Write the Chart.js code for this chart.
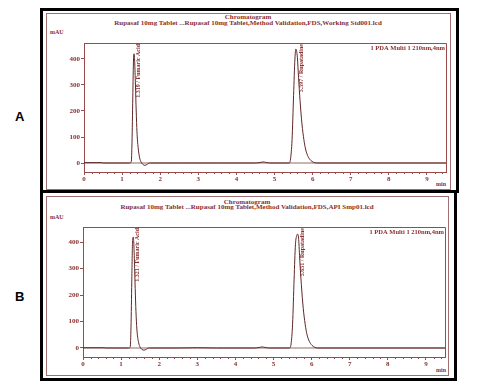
<!DOCTYPE html>
<html>
<head>
<meta charset="utf-8">
<script src="https://cdn.jsdelivr.net/npm/chart.js@4/dist/chart.umd.min.js"></script>
<style>
  html,body{margin:0;padding:0;background:#fff;}
  body{width:481px;height:389px;position:relative;overflow:hidden;}
  .box{position:absolute;box-sizing:border-box;}
  .txt{position:absolute;white-space:nowrap;font-family:'Liberation Serif',serif;color:#8a2f2f;font-weight:bold;}
  .lab{position:absolute;font-family:'Liberation Sans',Arial,sans-serif;font-weight:bold;font-size:13px;color:#000;}
  canvas{position:absolute;}
</style>
</head>
<body>
<script>
// ---------- data ----------
const xTickValues = [0, 1, 2, 3, 4, 5, 6, 7, 8, 9];
const yTickValues = [0, 100, 200, 300, 400];

const timesA  = [0, 0.45, 0.5, 1.2, 1.24, 1.26, 1.28, 1.30, 1.315, 1.33, 1.35, 1.37, 1.39, 1.42, 1.46, 1.5, 1.55, 1.6, 1.65, 1.7, 1.75, 2.5, 3.5, 4.5, 4.62, 4.7, 4.78, 4.9, 5.38, 5.42, 5.46, 5.50, 5.535, 5.56, 5.58, 5.60, 5.63, 5.67, 5.72, 5.77, 5.82, 5.88, 5.95, 6.02, 6.1, 9.5];
const signalA = [1.5, 1.5, 0, 0, 5, 80, 250, 400, 420, 390, 300, 200, 120, 60, 20, 3, -6, -9, -6, -1, 0, 0, 0, 0, 2, 4, 2, 0, 0, 15, 90, 260, 400, 438, 430, 405, 330, 240, 150, 90, 50, 25, 10, 3, 0, 0];

const timesB  = [0, 0.55, 0.6, 1.2, 1.24, 1.26, 1.28, 1.30, 1.32, 1.335, 1.355, 1.375, 1.395, 1.42, 1.46, 1.5, 1.55, 1.6, 1.65, 1.7, 1.75, 2.5, 3.0, 3.5, 4.5, 4.62, 4.7, 4.78, 4.9, 5.42, 5.46, 5.50, 5.54, 5.575, 5.61, 5.635, 5.66, 5.69, 5.73, 5.78, 5.83, 5.88, 5.94, 6.01, 6.08, 6.15, 9.5];
const signalB = [1, 1, 0, 0, 5, 80, 250, 400, 419, 390, 300, 200, 120, 60, 20, 3, -6, -8, -6, -1, 0, 0, 1, 0, 0, 2, 4, 2, 0, 0, 15, 90, 260, 390, 425, 430, 410, 330, 240, 150, 90, 50, 25, 10, 3, 0, 0];

const peakTimesA  = [1.319, 5.597];
const peakLabelsA = ['1.319 / Fumaric Acid', '5.597 / Rupatadine'];
const peakTimesB  = [1.321, 5.651];
const peakLabelsB = ['1.321 / Fumaric Acid', '5.651 / Rupatadine'];

const titleText   = 'Chromatogram';
const subtitleA   = 'Rupasaf 10mg Tablet ...Rupasaf 10mg Tablet,Method Validation,FDS,Working Std001.lcd';
const subtitleB   = 'Rupasaf 10mg Tablet ...Rupasaf 10mg Tablet,Method Validation,FDS,API Smp01.lcd';
const channelText = '1 PDA Multi 1 210nm,4nm';
const yUnit = 'mAU';
const xUnit = 'min';

// ---------- styles ----------
const AX = '#9a4a4a';
const TXT = '#8a2f2f';
const TRACE = '#5e2626';
const FONT = "'Liberation Serif', serif";

function el(tag, cls, css, text){
  const e = document.createElement(tag);
  if (cls) e.className = cls;
  Object.assign(e.style, css);
  if (text !== undefined) e.textContent = text;
  document.body.appendChild(e);
  return e;
}

// outer black frames
el('div','box',{left:'40px',top:'8px',width:'419px',height:'185px',border:'3px solid #000'});
el('div','box',{left:'40px',top:'190px',width:'417px',height:'191px',border:'3px solid #000'});
// inner maroon frames
el('div','box',{left:'46px',top:'13px',width:'405px',height:'177px',border:'1px solid #a07070'});
el('div','box',{left:'46px',top:'196px',width:'403px',height:'180px',border:'1px solid #a07070'});

el('div','lab',{left:'15px',top:'109px'},'A');
el('div','lab',{left:'15px',top:'289px'},'B');

function centered(text, cx, cy, size){
  const d = el('div','txt',{fontSize:size+'px',top:(cy - size*0.6)+'px',left:'0px'},text);
  const w = d.getBoundingClientRect().width;
  d.style.left = (cx - w/2) + 'px';
  return d;
}

function buildPanel(cfg){
  centered(titleText, cfg.cx, cfg.titleY, 7);
  centered(cfg.subtitle, cfg.cx, cfg.subY, 7);
  el('div','txt',{fontSize:'6px',left:'50px',top:(cfg.mauY-4)+'px'},yUnit);
  el('div','txt',{fontSize:'6px',left:'436px',top:(cfg.minY-4)+'px'},xUnit);

  const c = document.createElement('canvas');
  c.width = cfg.w; c.height = cfg.h;
  c.style.left = cfg.left+'px'; c.style.top = cfg.top+'px';
  c.style.width = cfg.w+'px'; c.style.height = cfg.h+'px';
  document.body.appendChild(c);

  const decor = {
    id:'decor',
    afterDraw(chart){
      const {ctx, chartArea:a, scales:{x,y}} = chart;
      ctx.save();
      ctx.strokeStyle = AX; ctx.lineWidth = 1;
      ctx.beginPath();
      ctx.moveTo(a.left, a.top+0.5); ctx.lineTo(a.right+0.5, a.top+0.5);
      ctx.lineTo(a.right+0.5, a.bottom);
      ctx.stroke();
      // minor x ticks
      ctx.beginPath();
      for (let i = 0; i <= 47; i++){
        const v = i*0.2;
        if (Math.abs(v - Math.round(v)) < 1e-6) continue;
        const px = Math.round(x.getPixelForValue(v)) + 0.5;
        ctx.moveTo(px, a.bottom); ctx.lineTo(px, a.bottom+2);
      }
      ctx.stroke();
      // channel text
      ctx.fillStyle = TXT;
      ctx.font = "bold 6.5px " + FONT;
      ctx.textAlign = 'right'; ctx.textBaseline = 'top';
      ctx.fillText(channelText, a.right - 1, a.top + 2);
      // peak labels
      ctx.font = "bold 6px " + FONT;
      cfg.peakTimes.forEach((t, i) => {
        const px = x.getPixelForValue(t) + 4;
        ctx.save();
        ctx.translate(px, a.top + 1);
        ctx.rotate(-Math.PI/2);
        ctx.textAlign = 'right'; ctx.textBaseline = 'middle';
        ctx.fillText(cfg.peakLabels[i], 0, 0);
        ctx.restore();
      });
      ctx.restore();
    }
  };

  new Chart(c, {
    type:'scatter',
    data:{datasets:[
      {data: cfg.times.map((t,i)=>({x:t,y:cfg.signal[i]})), showLine:true, fill:false, borderColor:TRACE, borderWidth:1, pointRadius:0, cubicInterpolationMode:'monotone'},
      {data:[{x:0,y:0},{x:9.5,y:0}], showLine:true, fill:false, borderColor:'#7a4545', borderWidth:0.8, pointRadius:0}
    ]},
    options:{
      animation:false, responsive:false, devicePixelRatio:1,
      layout:{padding:{left:0, top:30, right:4, bottom:0}},
      plugins:{legend:{display:false}, tooltip:{enabled:false}},
      scales:{
        x:{type:'linear', min:0, max:9.5,
          afterBuildTicks: s => { s.ticks = xTickValues.map(v=>({value:v})); },
          afterFit: s => { s.height = cfg.xh; },
          grid:{drawOnChartArea:false, drawTicks:true, tickLength:3, color:AX},
          border:{display:true, color:AX},
          ticks:{color:TXT, font:{family:FONT, size:7, weight:'bold'}, padding:0, maxRotation:0, autoSkip:false}
        },
        y:{type:'linear', min:cfg.ymin, max:cfg.ymax,
          afterBuildTicks: s => { s.ticks = yTickValues.map(v=>({value:v})); },
          afterFit: s => { s.width = cfg.yw; },
          grid:{drawOnChartArea:false, drawTicks:true, tickLength:3, color:AX},
          border:{display:true, color:AX},
          ticks:{color:TXT, font:{family:FONT, size:7, weight:'bold'}, padding:1}
        }
      }
    },
    plugins:[decor]
  });
}

buildPanel({left:47, top:13, w:403, h:174, xh:15, yw:37, ymin:-34.6, ymax:461.5,
  times:timesA, signal:signalA, peakTimes:peakTimesA, peakLabels:peakLabelsA,
  subtitle:subtitleA, cx:248, titleY:17, subY:23, mauY:33, minY:185});
buildPanel({left:47, top:197, w:402, h:178, xh:18, yw:36, ymin:-34, ymax:457,
  times:timesB, signal:signalB, peakTimes:peakTimesB, peakLabels:peakLabelsB,
  subtitle:subtitleB, cx:247, titleY:202, subY:207, mauY:218, minY:371});
</script>
</body>
</html>
